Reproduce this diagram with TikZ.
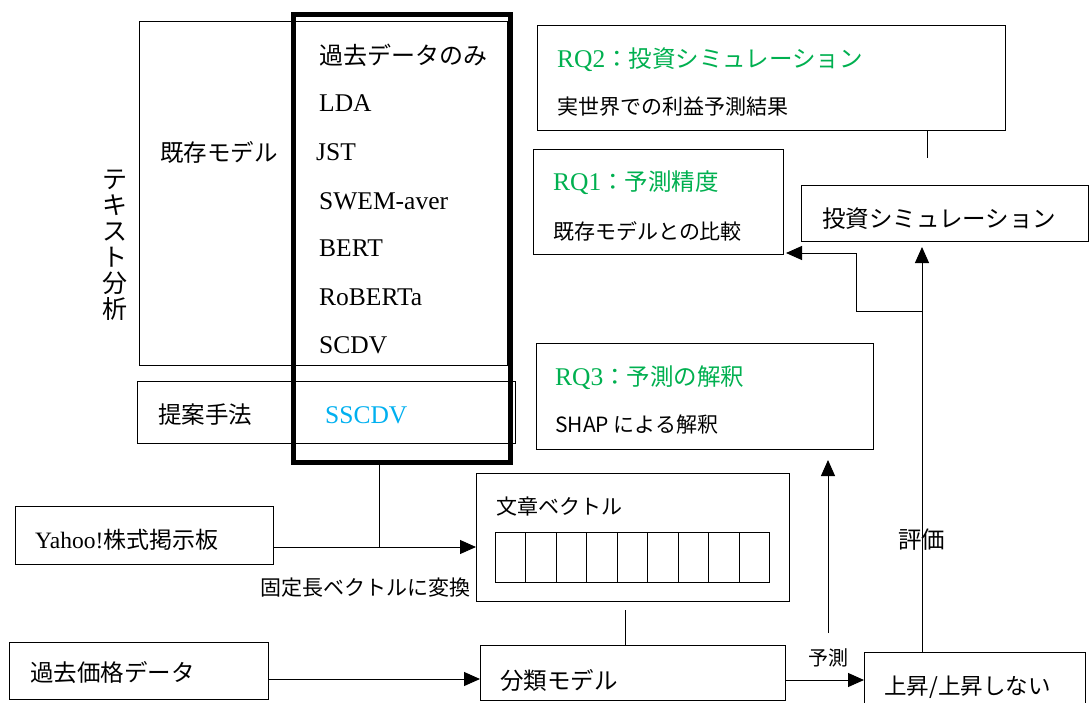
\documentclass[tikz,border=0pt]{standalone}
\usepackage{fontspec}
\setmainfont{Liberation Serif}
\newfontfamily\jp{Noto Sans CJK JP}
\usetikzlibrary{arrows.meta}
\definecolor{rqgreen}{HTML}{00B050}
\definecolor{sblue}{HTML}{00B0F0}
\newcommand\jpL{\jp\fontsize{23.5}{26}\selectfont}
\newcommand\jpS{\jp\fontsize{21}{24}\selectfont}
\tikzset{
  box/.style={draw, line width=1pt, anchor=north west, inner sep=0pt},
  thickbox/.style={draw, line width=5pt, anchor=north west, inner sep=0pt},
  jl/.style={anchor=west, inner sep=0pt, font=\jpL},
  js/.style={anchor=west, inner sep=0pt, font=\jpS},
  lat/.style={anchor=west, inner sep=0pt, font=\fontsize{25.5}{28}\selectfont},
  conn/.style={line width=1pt},
  arr/.style={line width=1pt, -{Triangle[length=16pt,width=14pt]}},
}
\begin{document}
\begin{tikzpicture}[x=1pt,y=-1pt]
\useasboundingbox[fill=white] (0,0) rectangle (1090,702);
% left block
\node[box, minimum width=368pt, minimum height=344pt] (exist) at (139,21) {};
\node[box, minimum width=378pt, minimum height=62pt] (prop) at (137,381) {};
\node[thickbox, minimum width=217pt, minimum height=448pt] (thick) at (291,11.5) {};
\node[align=center, inner sep=0pt, font=\jp\fontsize{25}{26}\selectfont] (ta) at (115,245) {テ\\キ\\ス\\ト\\分\\析};
\node[jl] (existt) at (160,152) {既存モデル};
\node[jl] (propt) at (158,415) {提案手法};
\node[jl, font=\jp\fontsize{24}{26}\selectfont] (m0) at (319,55) {過去データのみ};
\node[lat] (m1) at (319,103) {LDA};
\node[lat] (m2) at (316,152) {JST};
\node[lat] (m3) at (319,201) {SWEM-aver};
\node[lat] (m4) at (319,248) {BERT};
\node[lat] (m5) at (319,297) {RoBERTa};
\node[lat] (m6) at (319,345) {SCDV};
\node[lat, text=sblue] (m7) at (325,415) {SSCDV};
% RQ boxes
\node[box, minimum width=468pt, minimum height=105pt] (rq2) at (537,25) {};
\node[lat, text=rqgreen] (rq2t) at (557,60) {RQ2{\jpL ：投資シミュレーション}};
\node[js] (rq2s) at (557,107) {実世界での利益予測結果};
\node[box, minimum width=250pt, minimum height=105pt] (rq1) at (533,149) {};
\node[lat, text=rqgreen] (rq1t) at (553,183) {RQ1{\jpL ：予測精度}};
\node[js] (rq1s) at (553,231) {既存モデルとの比較};
\node[box, minimum width=337pt, minimum height=106pt] (rq3) at (536,343) {};
\node[lat, text=rqgreen] (rq3t) at (555,378) {RQ3{\jpL ：予測の解釈}};
\node[js] (rq3s) at (555,425) {SHAP による解釈};
\node[box, minimum width=287pt, minimum height=56pt] (sim) at (801,185) {};
\node[jl] (simt) at (822,219) {投資シミュレーション};
% bottom
\node[box, minimum width=258pt, minimum height=58pt] (yahoo) at (15,506) {};
\node[anchor=west, inner sep=0pt, font=\fontsize{23.5}{26}\selectfont] (yahoot) at (35,540) {Yahoo!{\jp\fontsize{23}{26}\selectfont 株式掲示板}};
\node[box, minimum width=313pt, minimum height=128pt] (vec) at (476,473) {};
\node[js] (vect) at (496,507) {文章ベクトル};
\foreach \i in {0,...,8} {
  \node[box, minimum width=30.44pt, minimum height=50pt] (c\i) at ({495+30.44*\i},532) {};
}
\node[box, minimum width=259pt, minimum height=57pt] (past) at (9,642) {};
\node[jl] (pastt) at (30,673) {過去価格データ};
\node[box, minimum width=305pt, minimum height=55pt] (cls) at (480,645) {};
\node[jl] (clst) at (500,680) {分類モデル};
\node[box, minimum width=221pt, minimum height=60pt] (ud) at (864,652) {};
\node[js, font=\jp\fontsize{22.5}{24}\selectfont] (udt) at (884,687) {上昇/上昇しない};
% labels
\node[js] (conv) at (260,588) {固定長ベクトルに変換};
\node[js, font=\jp\fontsize{20}{22}\selectfont] (pred) at (808,658) {予測};
\node[jl] (eval) at (898,540) {評価};
% connectors
\coordinate (j1) at (379,547);
\draw[conn] (j1 |- thick.south) -- (j1);
\draw[arr] (yahoo.east |- j1) -- (vec.west |- j1);
\coordinate (j2) at (0,679);
\draw[arr] (past.east |- j2) -- (cls.west |- j2);
\coordinate (v1) at (625,610);
\draw[conn] (v1) -- (v1 |- cls.north);
\coordinate (p1) at (0,680);
\draw[arr] (cls.east |- p1) -- (ud.west |- p1);
\coordinate (r3a) at (828,633);
\coordinate (r3b) at (828,460);
\draw[arr] (r3a) -- (r3b);
\coordinate (e1) at (922,247);
\draw[arr] (e1 |- ud.north) -- (e1);
\coordinate (b1) at (922,311);
\coordinate (b2) at (856,311);
\coordinate (b3) at (786,253);
\draw[arr] (b1) -- (b2) |- (b3);
\coordinate (q1) at (927,158);
\draw[conn] (q1 |- rq2.south) -- (q1);
\end{tikzpicture}
\end{document}
